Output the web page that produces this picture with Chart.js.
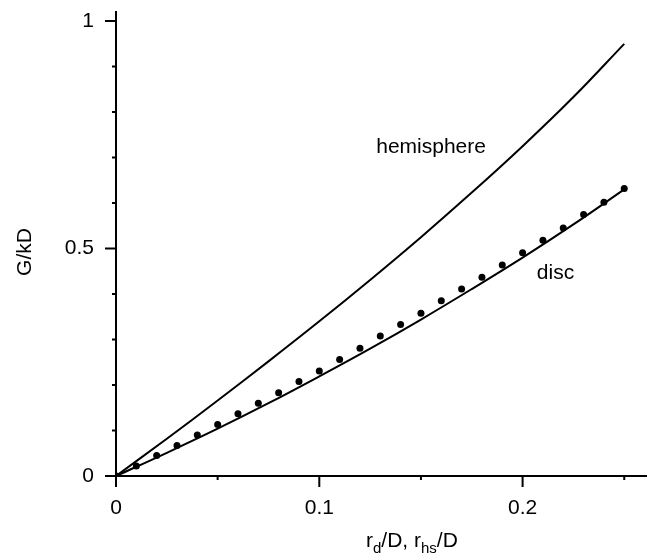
<!DOCTYPE html>
<html>
<head>
<meta charset="utf-8">
<script src="https://cdn.jsdelivr.net/npm/chart.js@4.4.1/dist/chart.umd.min.js"></script>
<style>
  html, body { margin: 0; padding: 0; background: #fff; }
  canvas { display: block; }
</style>
</head>
<body>
<canvas id="gChart" width="651" height="554"></canvas>
<script>
// curve abscissae (r/D) and the two model curves
const curveX = [0, 0.025, 0.05, 0.075, 0.1, 0.125, 0.15, 0.175, 0.2, 0.225, 0.25];
const hemisphere = [0, 0.082, 0.166, 0.252, 0.340, 0.431, 0.525, 0.623, 0.725, 0.833, 0.950];
const disc = [0, 0.051, 0.104, 0.160, 0.219, 0.280, 0.344, 0.411, 0.480, 0.553, 0.630];

// measured disc points
const dotX = [0, 0.01, 0.02, 0.03, 0.04, 0.05, 0.06, 0.07, 0.08, 0.09, 0.10, 0.11, 0.12,
  0.13, 0.14, 0.15, 0.16, 0.17, 0.18, 0.19, 0.20, 0.21, 0.22, 0.23, 0.24, 0.25];
const dotY = [0, 0.022, 0.045, 0.067, 0.090, 0.113, 0.137, 0.160, 0.183, 0.208, 0.231, 0.256, 0.281,
  0.308, 0.333, 0.358, 0.385, 0.411, 0.437, 0.464, 0.491, 0.518, 0.545, 0.575, 0.602, 0.632];

// tick values
const xMajor = [0, 0.1, 0.2];
const xMinor = [0.05, 0.15, 0.25];
const yMajor = [0, 0.5, 1];
const yMinor = [0.1, 0.2, 0.3, 0.4, 0.6, 0.7, 0.8, 0.9];

const FONT = "'Liberation Sans', Arial, Helvetica, sans-serif";
const FSIZE = 21;

const toPoints = (xs, ys) => xs.map((x, i) => ({ x: x, y: ys[i] }));

// draws tick marks, axis titles and curve labels
const decorPlugin = {
  id: 'decor',
  afterDraw(chart) {
    const ctx = chart.ctx;
    const xs = chart.scales.x;
    const ys = chart.scales.y;
    const area = chart.chartArea;
    ctx.save();
    ctx.strokeStyle = '#000';
    ctx.lineWidth = 2;
    ctx.beginPath();
    xMajor.forEach(v => {
      const px = xs.getPixelForValue(v);
      ctx.moveTo(px, area.bottom); ctx.lineTo(px, area.bottom + 11);
    });
    xMinor.forEach(v => {
      const px = xs.getPixelForValue(v);
      ctx.moveTo(px, area.bottom); ctx.lineTo(px, area.bottom + 4);
    });
    yMajor.forEach(v => {
      const py = ys.getPixelForValue(v);
      ctx.moveTo(area.left, py); ctx.lineTo(area.left - 11, py);
    });
    yMinor.forEach(v => {
      const py = ys.getPixelForValue(v);
      ctx.moveTo(area.left, py); ctx.lineTo(area.left - 4, py);
    });
    ctx.stroke();

    ctx.fillStyle = '#000';
    ctx.textBaseline = 'middle';
    ctx.font = FSIZE + 'px ' + FONT;
    ctx.textAlign = 'left';
    ctx.fillText('hemisphere', xs.getPixelForValue(0.128), ys.getPixelForValue(0.723));
    ctx.fillText('disc', xs.getPixelForValue(0.207), ys.getPixelForValue(0.446));

    // y title
    ctx.save();
    ctx.translate(25, 252);
    ctx.rotate(-Math.PI / 2);
    ctx.textAlign = 'center';
    ctx.fillText('G/kD', 0, 0);
    ctx.restore();

    // x title with subscripts
    ctx.textBaseline = 'alphabetic';
    let x = 366;
    const base = 547;
    const parts = [['r', 0], ['d', 1], ['/D, r', 0], ['hs', 1], ['/D', 0]];
    parts.forEach(([t, sub]) => {
      ctx.font = (sub ? '15px ' : FSIZE + 'px ') + FONT;
      ctx.fillText(t, x, sub ? base + 6 : base);
      x += ctx.measureText(t).width;
    });
    ctx.restore();
  }
};

const ctx = document.getElementById('gChart');
new Chart(ctx, {
  type: 'scatter',
  data: {
    datasets: [
      {
        label: 'hemisphere',
        data: toPoints(curveX, hemisphere),
        showLine: true,
        borderColor: '#000',
        borderWidth: 2,
        pointRadius: 0,
        tension: 0.4,
      },
      {
        label: 'disc',
        data: toPoints(curveX, disc),
        showLine: true,
        borderColor: '#000',
        borderWidth: 2,
        pointRadius: 0,
        tension: 0.4,
      },
      {
        label: 'disc points',
        data: toPoints(dotX, dotY),
        showLine: false,
        backgroundColor: '#000',
        borderColor: '#000',
        pointRadius: 3.5,
        borderWidth: 0,
      },
    ],
  },
  options: {
    responsive: false,
    animation: false,
    devicePixelRatio: 1,
    layout: { padding: { top: 12, right: 5, left: 0, bottom: 0 } },
    plugins: {
      legend: { display: false },
      tooltip: { enabled: false },
    },
    scales: {
      x: {
        type: 'linear',
        min: 0,
        max: 0.2607,
        afterBuildTicks: (scale) => { scale.ticks = xMajor.map(v => ({ value: v })); },
        afterFit: (scale) => {
          scale.height = 78;
          scale.paddingLeft = 0;
          scale.paddingRight = 0;
        },
        grid: { display: false, drawTicks: false },
        border: { display: true, color: '#000', width: 2 },
        ticks: {
          color: '#000',
          font: { family: FONT, size: FSIZE },
          padding: 20,
          maxRotation: 0,
          callback: (v) => String(v),
        },
      },
      y: {
        type: 'linear',
        min: 0,
        max: 1.02,
        afterBuildTicks: (scale) => { scale.ticks = yMajor.map(v => ({ value: v })); },
        afterFit: (scale) => {
          scale.width = 116;
          scale.paddingTop = 0;
          scale.paddingBottom = 0;
        },
        grid: { display: false, drawTicks: false },
        border: { display: true, color: '#000', width: 2 },
        ticks: {
          color: '#000',
          font: { family: FONT, size: FSIZE },
          padding: 22,
          callback: (v) => String(v),
        },
      },
    },
  },
  plugins: [decorPlugin],
});
</script>
</body>
</html>
